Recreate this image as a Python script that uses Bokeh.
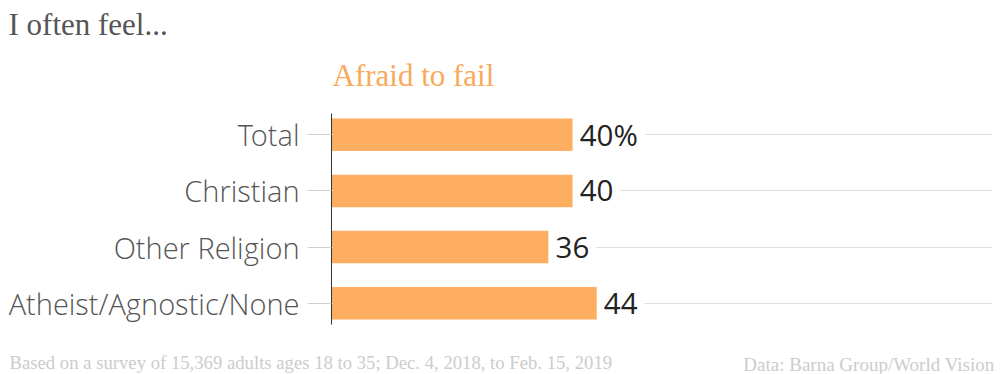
from bokeh.plotting import figure
from bokeh.models import ColumnDataSource, FactorRange, Range1d, Label
from bokeh.core.properties import value
from bokeh.embed import file_html
from bokeh.resources import INLINE

categories = ["Total", "Christian", "Other Religion", "Atheist/Agnostic/None"]
values = [40, 40, 36, 44]
value_labels = ["40%", "40", "36", "44"]

title_text = "I often feel..."
subtitle_text = "Afraid to fail"
note_text = "Based on a survey of 15,369 adults ages 18 to 35; Dec. 4, 2018, to Feb. 15, 2019"
source_text = "Data: Barna Group/World Vision"

BAR = "#fdae61"
SERIF = "Liberation Serif"

src = ColumnDataSource(dict(cat=categories, val=values, lab=value_labels))

p = figure(
    width=1000, height=374,
    y_range=FactorRange(factors=categories[::-1], range_padding=-0.12,
                        range_padding_units="absolute"),
    x_range=Range1d(0, 109.6),
    output_backend="svg", toolbar_location=None,
    x_axis_location=None,
    min_border_left=331, min_border_right=8,
    min_border_top=113, min_border_bottom=50,
)
p.outline_line_color = None
p.background_fill_color = "white"
p.border_fill_color = "white"
p.xgrid.visible = False
p.ygrid.grid_line_color = "#dedede"
p.ygrid.grid_line_width = 1

p.hbar(y="cat", right="val", left=0, height=0.58, source=src,
       fill_color=BAR, line_color=None)

p.text(x="val", y="cat", text="lab", source=src, x_offset=0,
       text_baseline="middle", text_align="left",
       text_font=value("Open Sans"), text_font_size="29.5px",
       text_color="#222222",
       background_fill_color="white", padding=7)

ax = p.yaxis[0]
ax.axis_line_color = "#333333"
ax.axis_line_width = 1
ax.major_tick_out = 24
ax.major_tick_in = 0
ax.major_tick_line_color = "#d0d0d0"
ax.minor_tick_line_color = None
ax.major_label_standoff = 8
ax.major_label_text_font = "Open Sans Light, Open Sans"
ax.major_label_text_font_size = "29px"
ax.major_label_text_color = "#555555"

p.add_layout(Label(x=-323, y=89, x_units="screen", y_units="screen",
                   text=title_text, text_font=SERIF, text_font_size="31px",
                   text_color="#555555", text_baseline="alphabetic"), "above")
p.add_layout(Label(x=1, y=3, x_units="screen", y_units="screen",
                   text=subtitle_text, text_font=SERIF, text_font_size="31px",
                   text_color="#f9a95c", text_baseline="alphabetic"), "above")
p.add_layout(Label(x=-322, y=-17, x_units="screen", y_units="screen",
                   text=note_text, text_font=SERIF, text_font_size="18.7px",
                   text_color="#cccccc", text_baseline="alphabetic"), "below")
p.add_layout(Label(x=663, y=2, x_units="screen", y_units="screen",
                   text=source_text, text_font=SERIF, text_font_size="19px",
                   text_color="#cccccc", text_baseline="alphabetic",
                   text_align="right"), "below")

open("out.html", "w").write(file_html(p, INLINE))
